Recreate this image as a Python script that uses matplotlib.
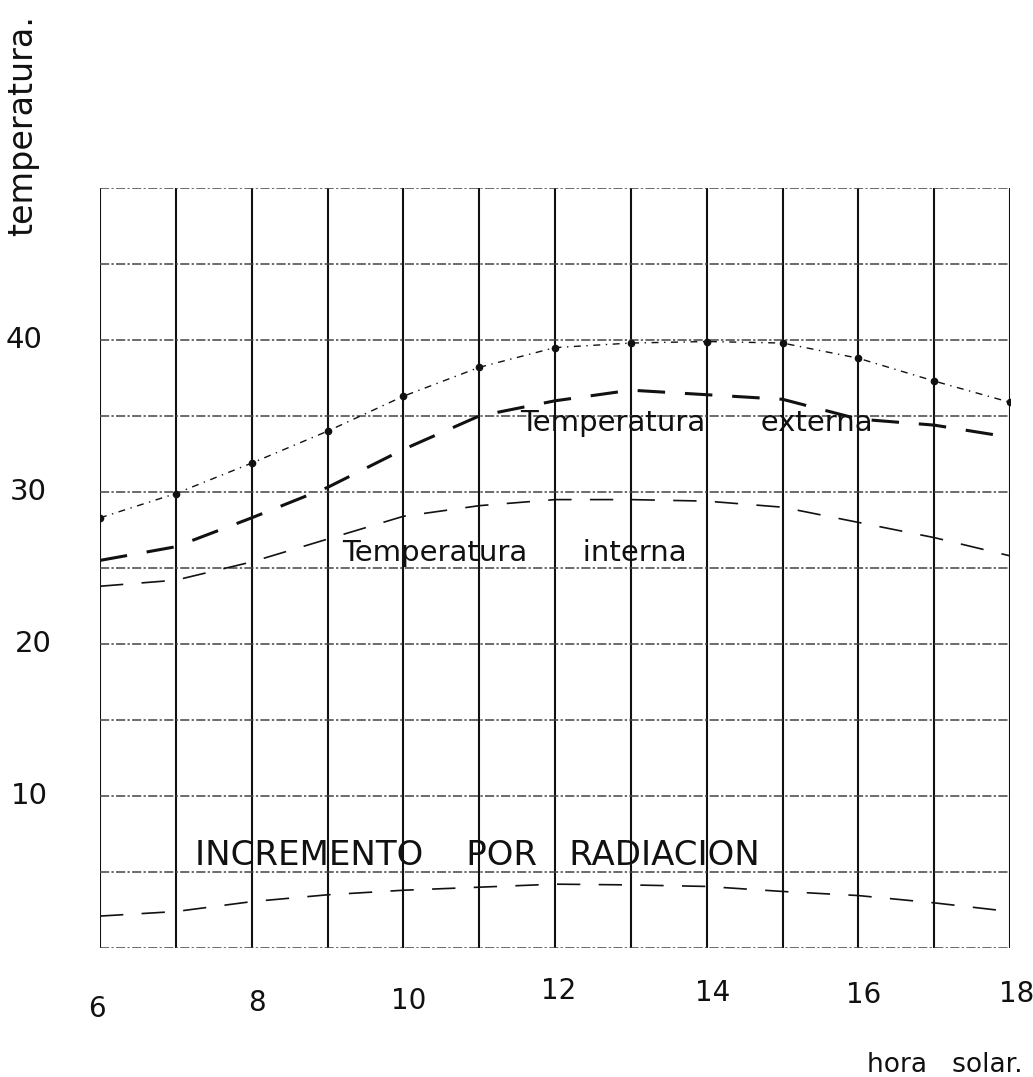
import matplotlib
matplotlib.use("Agg")
import matplotlib.pyplot as plt
import matplotlib.transforms as mtransforms

# Hourly readings (solar time)
hours = [6, 7, 8, 9, 10, 11, 12, 13, 14, 15, 16, 17, 18]
temp_externa = [28.3, 29.9, 31.9, 34.0, 36.3, 38.2, 39.5, 39.8, 39.9, 39.8, 38.8, 37.3, 35.9]
temp_sol_aire = [25.5, 26.4, 28.3, 30.3, 32.8, 35.0, 36.0, 36.7, 36.4, 36.1, 34.8, 34.4, 33.6]
temp_interna = [23.8, 24.2, 25.4, 26.9, 28.4, 29.1, 29.5, 29.5, 29.4, 29.0, 28.0, 27.0, 25.8]
incremento_radiacion = [2.1, 2.4, 3.05, 3.5, 3.8, 4.0, 4.2, 4.15, 4.05, 3.72, 3.45, 2.97, 2.4]

x_ticks = [6, 8, 10, 12, 14, 16, 18]
x_tick_labels = ["6", "8", "10", "12", "14", "16", "18"]
y_ticks = [40, 30, 20, 10]
y_tick_labels = ["40", "30", "20", "10"]

W, H = 1033, 1077
fig = plt.figure(figsize=(W / 100, H / 100), dpi=100)
fig.patch.set_facecolor("white")
ax = fig.add_axes([100 / W, 1 - 948 / H, 910 / W, 760 / H])
ax.set_xlim(6, 18)
ax.set_ylim(0, 50)
for s in ax.spines.values():
    s.set_visible(False)
ax.set_xticks([])
ax.set_yticks([])

ink = "#111111"

# Hand-ruled grid: solid verticals, broken horizontals
for h in range(6, 19):
    ax.axvline(h, color=ink, lw=1.5, zorder=1)
for v in range(0, 51, 5):
    ax.axhline(v, color="#444444", lw=1.1, linestyle=(0, (6, 1.5, 1.5, 1.5)), zorder=1)

# Curves
ax.plot(hours, temp_externa, color=ink, lw=1.0, linestyle=(0, (5, 4, 1, 4)),
        marker="o", markersize=4.5, zorder=3)
ax.plot(hours, temp_sol_aire, color=ink, lw=2.2, linestyle=(0, (9, 6.5)), zorder=3)
ax.plot(hours, temp_interna, color=ink, lw=1.2, linestyle=(0, (14, 11)), zorder=3)
ax.plot(hours, incremento_radiacion, color=ink, lw=1.2, linestyle=(0, (14, 11)), zorder=3)

# Curve labels
lbl_font = dict(family="DejaVu Sans", color=ink, zorder=4)
ax.text(11.54, 34.0, "Temperatura      externa", fontsize=21, va="baseline", ha="left", **lbl_font)
ax.text(9.19, 25.45, "Temperatura      interna", fontsize=21, va="baseline", ha="left", **lbl_font)
ax.text(7.25, 5.47, "INCREMENTO    POR   RADIACION", fontsize=24.5, va="baseline", ha="left", **lbl_font)

# Axis numbers, lettered by hand so they sit a little irregularly
xpix_off = [-3, 5, 5, 4, 6, 5, 7]
ypix_center = [1009, 1003, 1001, 991, 993, 995, 994]
xtrans = mtransforms.blended_transform_factory(ax.transData, fig.transFigure)
for xt, lab, dx, yc in zip(x_ticks, x_tick_labels, xpix_off, ypix_center):
    off = mtransforms.ScaledTranslation(dx / 100, 0, fig.dpi_scale_trans)
    ax.text(xt, 1 - yc / H, lab, transform=xtrans + off, ha="center", va="center",
            fontsize=20, family=["Liberation Sans Narrow", "DejaVu Sans"], color=ink,
            clip_on=False)

yright_pix = [42, 47, 52, 48]
ytrans = mtransforms.blended_transform_factory(fig.transFigure, ax.transData)
for yt, lab, xr in zip(y_ticks, y_tick_labels, yright_pix):
    ax.text(xr / W, yt, lab, transform=ytrans, ha="right", va="center",
            fontsize=21, family="DejaVu Sans", color=ink, clip_on=False)

fig.text(23 / W, 1 - 126 / H, "temperatura.", rotation=90, ha="center", va="center",
         fontsize=24, family="DejaVu Sans", color=ink)
fig.text(1023 / W, 1 - 1072 / H, "hora   solar.", ha="right", va="baseline",
         fontsize=19, family="DejaVu Sans", color=ink)

fig.savefig("out.png", dpi=100, facecolor="white")
